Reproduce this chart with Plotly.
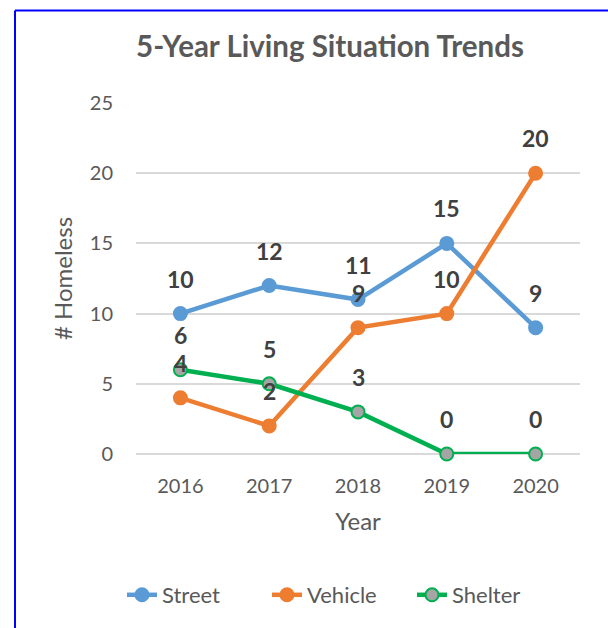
import plotly.graph_objects as go

years = ["2016", "2017", "2018", "2019", "2020"]
street = [10, 12, 11, 15, 9]
vehicle = [4, 2, 9, 10, 20]
shelter = [6, 5, 3, 0, 0]

FONT = "Lato"
GREY = "#595959"
LABEL = "#404040"

W, H = 608, 628
ML, MR, MT, MB = 136, 28, 103, 174
PW, PH = W - ML - MR, H - MT - MB

xpos = list(range(len(years)))

fig = go.Figure()
series = [
    ("Street", street, "#5B9BD5", "#5B9BD5", "#5B9BD5"),
    ("Vehicle", vehicle, "#ED7D31", "#ED7D31", "#ED7D31"),
    ("Shelter", shelter, "#00B050", "#A5A5A5", "#00B050"),
]
annotations = []
for name, vals, lc, mfill, mline in series:
    fig.add_trace(go.Scatter(
        x=xpos, y=vals, name=name, mode="lines+markers",
        line=dict(color=lc, width=4.5),
        marker=dict(size=13, color=mfill, line=dict(color=mline, width=2)),
        cliponaxis=False,
    ))
    for xv, yv in zip(xpos, vals):
        annotations.append(dict(x=xv, y=yv, xref="x", yref="y", text=f"<b>{yv}</b>",
                                showarrow=False, yshift=35,
                                font=dict(family=FONT, size=23, color=LABEL)))

def px_x(p):
    return (p - ML) / PW

def px_y(p):
    return (H - MB - p) / PH

fig.update_layout(
    width=W, height=H, autosize=False,
    margin=dict(l=ML, r=MR, t=MT, b=MB),
    paper_bgcolor="white", plot_bgcolor="white",
    font=dict(family=FONT, color=GREY),
    title=dict(text="<b>5-Year Living Situation Trends</b>", x=330/W, xanchor="center",
               y=1-47/H, yanchor="middle", font=dict(family=FONT, size=29.5, color=GREY)),
    showlegend=True,
    legend=dict(orientation="h", xref="container", yref="container",
                x=122/W, xanchor="left", y=1-595/H, yanchor="middle",
                font=dict(family=FONT, size=22, color=GREY),
                entrywidth=100, traceorder="normal"),
    annotations=annotations,
    shapes=[
        dict(type="line", xref="paper", yref="paper",
             x0=px_x(15), x1=px_x(15), y0=px_y(640), y1=px_y(10.5),
             line=dict(color="#0000FF", width=2)),
        dict(type="line", xref="paper", yref="paper",
             x0=px_x(15), x1=px_x(620), y0=px_y(10.5), y1=px_y(10.5),
             line=dict(color="#0000FF", width=2)),
    ],
)

fig.update_xaxes(type="linear", range=[-0.5, 4.5], tickvals=xpos, ticktext=years,
                 showgrid=False, showline=False,
                 zeroline=False, ticks="", ticklabelstandoff=18,
                 tickfont=dict(family=FONT, size=20, color=GREY),
                 title=dict(text="Year", font=dict(family=FONT, size=24, color=GREY), standoff=17))
fig.update_yaxes(range=[0, 25], dtick=5, showgrid=True, gridcolor="#D9D9D9", gridwidth=1.5,
                 zeroline=True, zerolinecolor="#D9D9D9", zerolinewidth=1.5,
                 showline=False, ticks="", ticklabelstandoff=22,
                 tickfont=dict(family=FONT, size=20, color=GREY),
                 title=dict(text="# Homeless", font=dict(family=FONT, size=24, color=GREY), standoff=10))

fig.write_html("out.html", config={"displayModeBar": False},
               post_script="document.body.style.margin='0';")
